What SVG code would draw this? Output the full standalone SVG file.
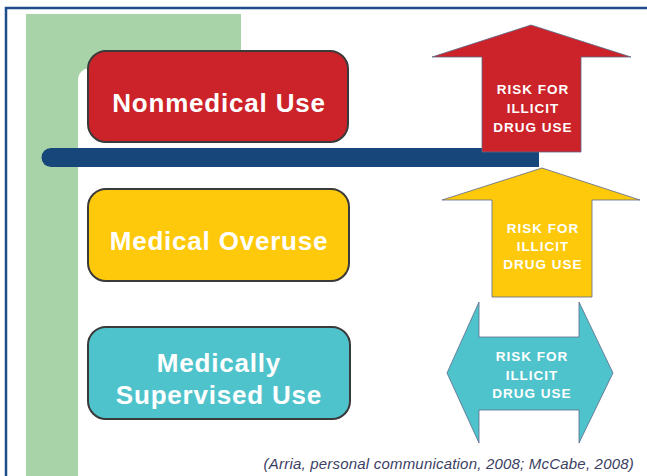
<svg xmlns="http://www.w3.org/2000/svg" width="647" height="476" viewBox="0 0 647 476">
  <style>
    .box { stroke: #3a3a3a; stroke-width: 2; }
    .label { font-family: "Liberation Sans", Arial, sans-serif; font-weight: bold; fill: #ffffff; text-anchor: middle; }
    .big { font-size: 26px; letter-spacing: 0.8px; }
    .risk { font-size: 13.5px; letter-spacing: 1px; }
    .arrow { stroke: #5a6a8a; stroke-width: 0.8; }
    .cite { font-family: "Liberation Sans", Arial, sans-serif; font-style: italic; font-size: 15px; letter-spacing: 0.2px; fill: #3b4063; text-anchor: end; }
  </style>

  <!-- page background and frame -->
  <rect x="0" y="0" width="647" height="476" fill="#ffffff"/>
  <path d="M6 476 V8 H647" fill="none" stroke="#1d4e89" stroke-width="2.5"/>

  <!-- green side band with white cut-out -->
  <rect x="26" y="14" width="215" height="462" fill="#a8d3a8"/>
  <rect x="78" y="68" width="300" height="420" rx="12" fill="#ffffff"/>

  <g id="nonmedical">
    <rect class="box" x="88" y="51" width="260" height="91" rx="18" fill="#cc2229"/>
    <text class="label big" x="219" y="112">Nonmedical Use</text>
  </g>

  <g id="overuse">
    <rect class="box" x="88" y="189" width="261" height="92" rx="18" fill="#fdc90a"/>
    <text class="label big" x="219" y="250">Medical Overuse</text>
  </g>

  <g id="supervised">
    <rect class="box" x="88" y="327" width="262" height="92" rx="18" fill="#4fc3cb"/>
    <text class="label big" x="219" y="372">Medically</text>
    <text class="label big" x="219" y="404">Supervised Use</text>
  </g>

  <g id="connectors">
    <!-- threshold bar -->
    <path d="M51 148 H539 V167 H51 A9.5 9.5 0 0 1 51 148 Z" fill="#17467a"/>
  </g>

  <g id="risk-high">
    <polygon class="arrow" points="531,25 631,57 581,57 581,152 482,152 482,57 432,57" fill="#cc2229"/>
    <text class="label risk" x="533" y="94">RISK FOR</text>
    <text class="label risk" x="533" y="113">ILLICIT</text>
    <text class="label risk" x="533" y="132">DRUG USE</text>
  </g>

  <g id="risk-mid">
    <polygon class="arrow" points="542,168 640,200 592,200 592,297 492,297 492,200 442,200" fill="#fdc90a"/>
    <text class="label risk" x="543" y="233">RISK FOR</text>
    <text class="label risk" x="543" y="251">ILLICIT</text>
    <text class="label risk" x="543" y="269">DRUG USE</text>
  </g>

  <g id="risk-flat">
    <polygon class="arrow" points="447,373 479,302 479,337 579,337 579,302 613,373 579,443 579,410 479,410 479,443" fill="#4fc3cb"/>
    <text class="label risk" x="532" y="361">RISK FOR</text>
    <text class="label risk" x="532" y="380">ILLICIT</text>
    <text class="label risk" x="532" y="398">DRUG USE</text>
  </g>

  <text class="cite" x="634" y="469">(Arria, personal communication, 2008; McCabe, 2008)</text>
</svg>
